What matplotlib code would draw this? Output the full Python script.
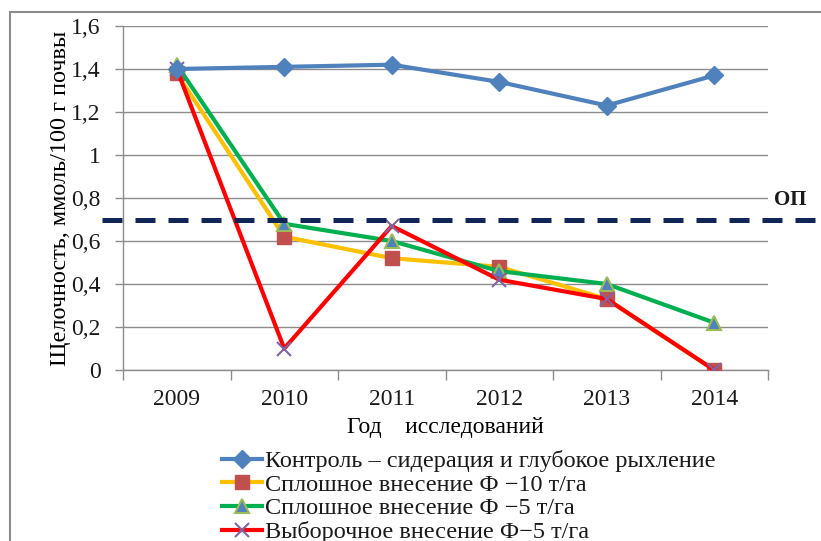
import matplotlib
matplotlib.use("Agg")
import matplotlib.pyplot as plt
from matplotlib.patches import Rectangle
from matplotlib.lines import Line2D
import matplotlib.transforms as mtransforms

plt.rcParams['font.family'] = ['Liberation Serif', 'DejaVu Serif']
plt.rcParams['text.color'] = '#1a1a1a'

years = ["2009", "2010", "2011", "2012", "2013", "2014"]
control = [1.40, 1.41, 1.42, 1.34, 1.23, 1.37]
solid_f10 = [1.38, 0.62, 0.52, 0.48, 0.33, 0.0]
solid_f5 = [1.42, 0.68, 0.60, 0.46, 0.40, 0.22]
selective_f5 = [1.40, 0.10, 0.67, 0.42, 0.33, 0.0]
threshold = 0.7

labels = [
    "Контроль \u2013 сидерация и глубокое рыхление",
    "Сплошное внесение Ф \u221210 т/га",
    "Сплошное внесение Ф \u22125 т/га",
    "Выборочное внесение Ф\u22125 т/га",
]

W, H = 821, 541
fig = plt.figure(figsize=(W / 100, H / 100), dpi=100)
fig.patch.set_facecolor("white")

# outer chart frame
fig.patches.append(Rectangle((10 / W, -0.05), 1.1, 1 - 12 / H + 0.05,
                             transform=fig.transFigure, fill=False,
                             edgecolor="#8c8c8c", linewidth=1.5))

left, right, top, bottom = 123, 768, 26, 370
ax = fig.add_axes([left / W, 1 - bottom / H, (right - left) / W, (bottom - top) / H])

x = list(range(len(years)))

ax.plot(x, control, color="#4F81BD", lw=3, marker="D", ms=9,
        mfc="#4F81BD", mec="#4F81BD", label=labels[0], zorder=5)
ax.plot(x, solid_f10, color="#FFC000", lw=3, marker="s", ms=10,
        mfc="#C0504D", mec="#C0504D", label=labels[1], zorder=4)
ax.plot(x, solid_f5, color="#00B050", lw=3, marker="^", ms=10,
        mfc="#4F81BD", mec="#9BBB59", mew=1.5, label=labels[2], zorder=4)
ax.plot(x, selective_f5, color="#FF0000", lw=3, marker="x", ms=10,
        mec="#8064A2", mew=1.5, label=labels[3], zorder=4)

ax.set_xlim(-0.5, len(years) - 0.5)
ax.set_ylim(0, 1.6)
ax.set_yticks([0, 0.2, 0.4, 0.6, 0.8, 1.0, 1.2, 1.4, 1.6])
ax.set_yticklabels(["0", "0,2", "0,4", "0,6", "0,8", "1", "1,2", "1,4", "1,6"])
ax.set_xticks(x)
ax.set_xticklabels(years)
ax.set_xticks([i + 0.5 for i in range(-1, len(years))], minor=True)
ax.tick_params(axis="x", which="major", length=0, labelsize=17, pad=14,
               labelcolor="#1a1a1a")
ax.tick_params(axis="x", which="minor", length=7, color="#8c8c8c", width=1)
ax.tick_params(axis="y", length=6, color="#8c8c8c", width=1, labelsize=17, pad=10,
               labelcolor="#1a1a1a")

ax.grid(axis="y", color="#8c8c8c", lw=1)
ax.set_axisbelow(True)
for s in ("top", "right"):
    ax.spines[s].set_visible(False)
for s in ("left", "bottom"):
    ax.spines[s].set_color("#8c8c8c")
    ax.spines[s].set_linewidth(1)

# threshold line extending past the plot area
trans = mtransforms.blended_transform_factory(ax.transAxes, ax.transData)
ax.add_line(Line2D([-0.033, 1.1], [threshold, threshold], transform=trans,
                   color="#0F2657", lw=3.6, dashes=(4, 2.6), clip_on=False, zorder=6))
ax.text(1.01, threshold + 0.09, "ОП", transform=trans, fontsize=15,
        fontweight="bold", ha="left", va="center")

ax.set_ylabel("Щелочность, ммоль/100 г почвы", fontsize=17.5, labelpad=0)
ax.set_xlabel("Год    исследований", fontsize=17, labelpad=5)

ax.legend(loc="upper left", bbox_to_anchor=(222 / W, 1 - 450 / H),
          bbox_transform=fig.transFigure, frameon=False, fontsize=17.5,
          handlelength=1.65, handletextpad=0.12, labelspacing=0.07,
          borderpad=0, borderaxespad=0)

fig.savefig("out.png", dpi=100)
